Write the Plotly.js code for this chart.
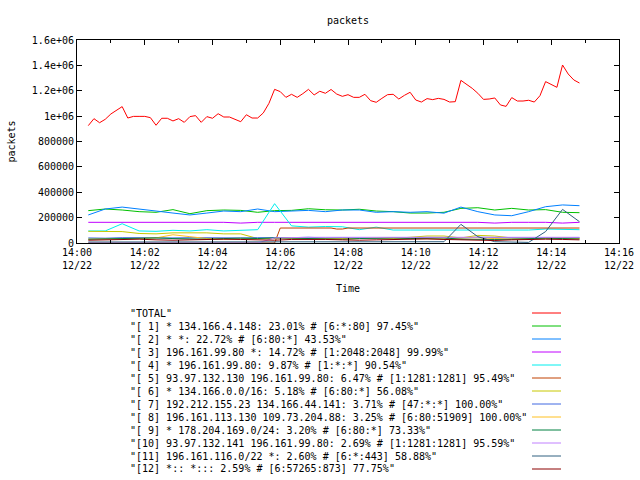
<!DOCTYPE html>
<html>
<head>
<meta charset="utf-8">
<script src="https://cdn.plot.ly/plotly-3.0.1.min.js"></script>
<style>html,body{margin:0;padding:0;background:#fff;}#chart{width:640px;height:480px;}</style>
</head>
<body>
<div id="chart"></div>
<script>
// ---------- DATA ----------
const day = "2010-12-22 ";

// 10-second samples
const times10 = [
 "14:00:20","14:00:30","14:00:40","14:00:50",
 "14:01:00","14:01:10","14:01:20","14:01:30","14:01:40","14:01:50",
 "14:02:00","14:02:10","14:02:20","14:02:30","14:02:40","14:02:50",
 "14:03:00","14:03:10","14:03:20","14:03:30","14:03:40","14:03:50",
 "14:04:00","14:04:10","14:04:20","14:04:30","14:04:40","14:04:50",
 "14:05:00","14:05:10","14:05:20","14:05:30","14:05:40","14:05:50",
 "14:06:00","14:06:10","14:06:20","14:06:30","14:06:40","14:06:50",
 "14:07:00","14:07:10","14:07:20","14:07:30","14:07:40","14:07:50",
 "14:08:00","14:08:10","14:08:20","14:08:30","14:08:40","14:08:50",
 "14:09:00","14:09:10","14:09:20","14:09:30","14:09:40","14:09:50",
 "14:10:00","14:10:10","14:10:20","14:10:30","14:10:40","14:10:50",
 "14:11:00","14:11:10","14:11:20","14:11:30","14:11:40","14:11:50",
 "14:12:00","14:12:10","14:12:20","14:12:30","14:12:40","14:12:50",
 "14:13:00","14:13:10","14:13:20","14:13:30","14:13:40","14:13:50",
 "14:14:00","14:14:10","14:14:20","14:14:30","14:14:40","14:14:50"
];

const totalPackets = [
 925000, 980000, 948000, 975000,1017000,1043000,1075000, 985000, 998000, 998000,
 998000, 988000, 928000, 983000, 983000, 962000, 980000, 951000, 996000,1004000,
 951000, 996000, 983000,1019000, 993000, 993000, 972000, 956000,1011000, 985000,
 985000,1025000,1101000,1211000,1193000,1148000,1172000,1148000,1177000,1211000,
1167000,1196000,1180000,1210000,1174000,1156000,1169000,1148000,1148000,1172000,
1122000,1109000,1140000,1169000,1172000,1135000,1164000,1188000,1127000,1111000,
1138000,1130000,1140000,1132000,1111000,1114000,1282000,1251000,1219000,1180000,
1132000,1135000,1143000,1088000,1077000,1146000,1119000,1119000,1125000,1111000,
1161000,1272000,1251000,1227000,1403000,1332000,1285000,1261000
];

const s5 = [
 0,0,0,0,0,0,0,0,0,0,
 0,0,0,0,0,0,0,0,0,0,
 0,0,0,0,0,0,0,0,0,0,
 0,0,0,0,118000,118000,118000,118000,118000,118000,
 118000,118000,118000,118000,110000,110000,118000,118000,118000,118000,
 118000,118000,118000,118000,118000,118000,118000,118000,118000,118000,
 118000,118000,118000,118000,118000,118000,118000,118000,118000,118000,
 118000,118000,118000,118000,118000,118000,118000,118000,118000,118000,
 118000,118000,118000,118000,118000,118000,118000,118000
];

// 30-second samples
const times30 = [
 "14:00:20","14:00:50","14:01:20","14:01:50","14:02:20","14:02:50",
 "14:03:20","14:03:50","14:04:20","14:04:50","14:05:20","14:05:50",
 "14:06:20","14:06:50","14:07:20","14:07:50","14:08:20","14:08:50",
 "14:09:20","14:09:50","14:10:20","14:10:50","14:11:20","14:11:50",
 "14:12:20","14:12:50","14:13:20","14:13:50","14:14:20","14:14:50"
];

const s1 = [255000,268000,260000,247000,242000,263000,231000,255000,260000,257000,
            242000,255000,257000,270000,262000,260000,266000,252000,247000,236000,
            236000,242000,273000,278000,260000,273000,260000,263000,242000,239000];
const s2 = [221000,268000,283000,265000,252000,236000,221000,236000,252000,247000,
            268000,247000,255000,257000,247000,260000,260000,242000,247000,242000,
            247000,235000,283000,247000,221000,215000,247000,286000,300000,294000];
const s3 = [163000,163000,163000,163000,163000,163000,163000,163000,163000,157000,
            163000,163000,163000,163000,163000,163000,163000,163000,163000,163000,
            163000,163000,163000,163000,157000,163000,163000,163000,157000,163000];
const s4 = [ 95000, 95000,152000, 95000, 92000,100000, 95000,105000, 95000,100000,
            105000,310000,135000,125000,130000,128000,105000,125000,102000,102000,
            102000,105000,102000,102000,105000,100000,102000,110000,105000,105000];
const s6 = [ 92000, 92000, 90000, 75000, 72000, 80000, 80000, 80000, 72000, 72000,
             35000, 35000, 38000, 35000, 38000, 35000, 36000, 38000, 36000, 45000,
             55000, 55000, 40000, 60000, 55000, 40000, 38000, 35000, 38000, 36000];
const s7 = [ 40000, 38000, 42000, 40000, 38000, 40000, 42000, 40000, 38000, 40000,
             42000, 40000, 42000, 45000, 40000, 42000, 40000, 38000, 42000, 40000,
             44000, 42000, 40000, 45000, 42000, 40000, 40000, 42000, 44000, 42000];
const s8 = [ 30000, 30000, 32000, 35000, 40000, 65000, 50000, 35000, 30000, 30000,
             32000, 35000, 38000, 35000, 30000, 32000, 35000, 40000, 38000, 35000,
             30000, 32000, 40000, 42000, 35000, 30000, 32000, 38000, 40000, 35000];
const s9 = [ 30000, 32000, 35000, 38000, 40000, 35000, 32000, 30000, 35000, 38000,
             35000, 40000, 38000, 35000, 32000, 30000, 35000, 38000, 40000, 35000,
             38000, 40000, 30000, 28000, 28000, 30000, 35000, 38000, 35000, 32000];
const s10 = [0,0,0,0,0,0,0,0,0,0,
             0, 40000, 45000, 45000, 45000, 45000, 45000, 45000, 45000, 45000,
             45000, 45000, 45000, 45000, 45000, 45000, 45000, 45000, 45000, 45000];
const s11 = [ 8000, 8000, 8000, 8000, 8000, 8000, 8000, 8000, 8000, 8000,
              8000, 8000, 8000, 8000, 8000, 8000, 8000, 8000, 8000, 8000,
              8000, 10000,147000, 50000, 10000, 8000, 5000, 90000,265000,168000];
const s12 = [ 22000, 25000, 28000, 30000, 25000, 22000, 25000, 28000, 30000, 28000,
              25000, 22000, 28000, 30000, 28000, 25000, 22000, 25000, 28000, 30000,
              32000, 28000, 25000, 22000, 20000, 25000, 28000, 30000, 28000, 25000];

const seriesNames = [
 '"TOTAL"',
 '"[ 1] * 134.166.4.148: 23.01% # [6:*:80] 97.45%"',
 '"[ 2] * *: 22.72% # [6:80:*] 43.53%"',
 '"[ 3] 196.161.99.80 *: 14.72% # [1:2048:2048] 99.99%"',
 '"[ 4] * 196.161.99.80: 9.87% # [1:*:*] 90.54%"',
 '"[ 5] 93.97.132.130 196.161.99.80: 6.47% # [1:1281:1281] 95.49%"',
 '"[ 6] * 134.166.0.0/16: 5.18% # [6:80:*] 56.08%"',
 '"[ 7] 192.212.155.23 134.166.44.141: 3.71% # [47:*:*] 100.00%"',
 '"[ 8] 196.161.113.130 109.73.204.88: 3.25% # [6:80:51909] 100.00%"',
 '"[ 9] * 178.204.169.0/24: 3.20% # [6:80:*] 73.33%"',
 '"[10] 93.97.132.141 196.161.99.80: 2.69% # [1:1281:1281] 95.59%"',
 '"[11] 196.161.116.0/22 *: 2.60% # [6:*:443] 58.88%"',
 '"[12] *:: *::: 2.59% # [6:57265:873] 77.75%"'
];

const yTickVals = [0,200000,400000,600000,800000,1000000,1200000,1400000,1600000];
const yTickText = ["0","200000","400000","600000","800000","1e+06","1.2e+06","1.4e+06","1.6e+06"];

// ---------- STYLE ----------
const colors = ["#ff0000","#00c000","#0080ff","#c000ff","#00eeee","#c04000","#c8c800",
                "#4169e1","#ffc020","#008040","#c080ff","#306080","#8b0000"];
const FONT = "DejaVu Sans Mono, monospace";
const PL = {l:77, r:619, t:40, b:243};
const px2x = px => (px - PL.l) / (PL.r - PL.l);
const px2y = py => (PL.b - py) / (PL.b - PL.t);

const t10 = times10.map(t => day + t);
const t30 = times30.map(t => day + t);

const seriesData = [
  [t10, totalPackets],
  [t30, s1],[t30, s2],[t30, s3],[t30, s4],[t10, s5],[t30, s6],
  [t30, s7],[t30, s8],[t30, s9],[t30, s10],[t30, s11],[t30, s12]
];

const traces = seriesData.map((d, i) => ({
  type: "scatter", mode: "lines", x: d[0], y: d[1], name: seriesNames[i],
  line: {color: colors[i], width: 1}, showlegend: false, hoverinfo: "skip"
}));

const annotations = [];
const shapes = [];
seriesNames.forEach((name, k) => {
  const py = 313 + 13 * k;
  annotations.push({
    xref: "paper", yref: "paper", x: px2x(128), y: px2y(py),
    xanchor: "left", yanchor: "middle", showarrow: false, text: name,
    font: {family: FONT, size: 10, color: "#000"}
  });
  shapes.push({
    type: "line", xref: "paper", yref: "paper",
    x0: px2x(532), x1: px2x(561), y0: px2y(py), y1: px2y(py),
    line: {color: colors[k], width: 1}
  });
});

const layout = {
  width: 640, height: 480,
  margin: {l: PL.l, r: 640 - PL.r, t: PL.t, b: 480 - PL.b, pad: 0},
  paper_bgcolor: "#fff", plot_bgcolor: "#fff",
  font: {family: FONT, size: 10, color: "#000"},
  title: {text: "packets", x: 0.5, xref: "paper", xanchor: "center",
          y: 1 - 20/480, yref: "container", yanchor: "middle",
          font: {family: FONT, size: 10, color: "#000"}},
  xaxis: {
    type: "date",
    range: [day + "14:00:00", day + "14:16:00"],
    tick0: day + "14:00:00", dtick: 120000, tickmode: "linear",
    tickformat: "%H:%M<br>%m/%d",
    ticks: "inside", ticklen: 5, tickcolor: "#000", tickwidth: 1,
    minor: {dtick: 60000, ticks: "inside", ticklen: 3, tickcolor: "#000", tickwidth: 1, showgrid: false},
    showline: true, linecolor: "#000", linewidth: 1, mirror: "ticks",
    showgrid: false, zeroline: false, fixedrange: true,
    tickfont: {family: FONT, size: 10, color: "#000"},
    title: {text: "Time", standoff: 14, font: {family: FONT, size: 10, color: "#000"}}
  },
  yaxis: {
    range: [0, 1600000],
    tickmode: "array", tickvals: yTickVals, ticktext: yTickText,
    ticks: "inside", ticklen: 5, tickcolor: "#000", tickwidth: 1,
    showline: true, linecolor: "#000", linewidth: 1, mirror: "ticks",
    showgrid: false, zeroline: false, fixedrange: true,
    tickfont: {family: FONT, size: 10, color: "#000"},
    title: {text: "packets", standoff: 14, font: {family: FONT, size: 10, color: "#000"}}
  },
  annotations: annotations,
  shapes: shapes,
  showlegend: false
};

Plotly.newPlot("chart", traces, layout, {staticPlot: true, displayModeBar: false});
</script>
</body>
</html>
